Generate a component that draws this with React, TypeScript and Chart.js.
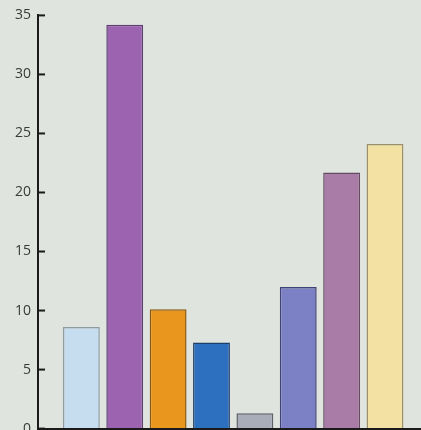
import React, { useEffect, useRef } from "react";
import { Chart, registerables } from "chart.js";

Chart.register(...registerables);

const categories = ["A", "B", "C", "D", "E", "F", "G", "H"];
const values = [8.6, 34.2, 10.1, 7.3, 1.3, 12.0, 21.7, 24.1];
const barColors = ["#c6dcef", "#9b63b0", "#e8961e", "#2e70c0", "#a9acb9", "#7c80c4", "#a97ba7", "#f3e1a3"];
const borderColors = ["#8f9aa3", "#5f3f70", "#8a5a14", "#1d3f6c", "#5e6068", "#3f4275", "#654a64", "#9c9068"];
const yTicks = [0, 5, 10, 15, 20, 25, 30, 35];

const innerTicks = {
  id: "innerTicks",
  afterDraw(chart: any) {
    const y = chart.scales.y;
    const ctx = chart.ctx;
    const left = chart.chartArea.left;
    ctx.save();
    ctx.strokeStyle = "#1a1a1a";
    ctx.lineWidth = 2;
    yTicks.forEach((v) => {
      const py = y.getPixelForValue(v);
      ctx.beginPath();
      ctx.moveTo(left, py);
      ctx.lineTo(left + 7, py);
      ctx.stroke();
    });
    ctx.restore();
  },
};

export default function App() {
  const ref = useRef<HTMLCanvasElement | null>(null);

  useEffect(() => {
    document.body.style.margin = "0";
    document.body.style.overflow = "hidden";
    document.body.style.background = "#dfe4df";
    if (!ref.current) return;
    const chart = new Chart(ref.current, {
      type: "bar",
      data: {
        datasets: [
          {
            label: categories.join(","),
            data: values.map((v, i) => ({ x: i + 1, y: v })),
            backgroundColor: barColors,
            borderColor: borderColors,
            borderWidth: 1.5,
            barPercentage: 0.85,
            categoryPercentage: 1,
          },
        ],
      },
      options: {
        animation: false,
        responsive: true,
        maintainAspectRatio: false,
        layout: { padding: { top: 7, bottom: 2, left: 0, right: 0 } },
        plugins: { legend: { display: false }, tooltip: { enabled: false } },
        scales: {
          x: {
            type: "linear",
            offset: false,
            min: 0,
            max: 8.83,
            grid: { display: false, drawTicks: false },
            ticks: { display: false },
            border: { display: true, color: "#1a1a1a", width: 2 },
            afterFit: (s: any) => {
              s.height = 0;
            },
          },
          y: {
            min: 0,
            max: 35,
            afterBuildTicks: (s: any) => {
              s.ticks = yTicks.map((v) => ({ value: v }));
            },
            grid: { drawOnChartArea: false, drawTicks: false },
            border: { display: true, color: "#1a1a1a", width: 2 },
            ticks: {
              padding: 7,
              color: "#3a3a3a",
              font: { family: "Open Sans", size: 14 },
            },
            afterFit: (s: any) => {
              s.width = 38;
            },
          },
        },
      },
      plugins: [innerTicks],
    });
    return () => chart.destroy();
  }, []);

  return (
    <div style={{ width: 421, height: 444, background: "#dfe4df" }}>
      <canvas ref={ref} />
    </div>
  );
}
